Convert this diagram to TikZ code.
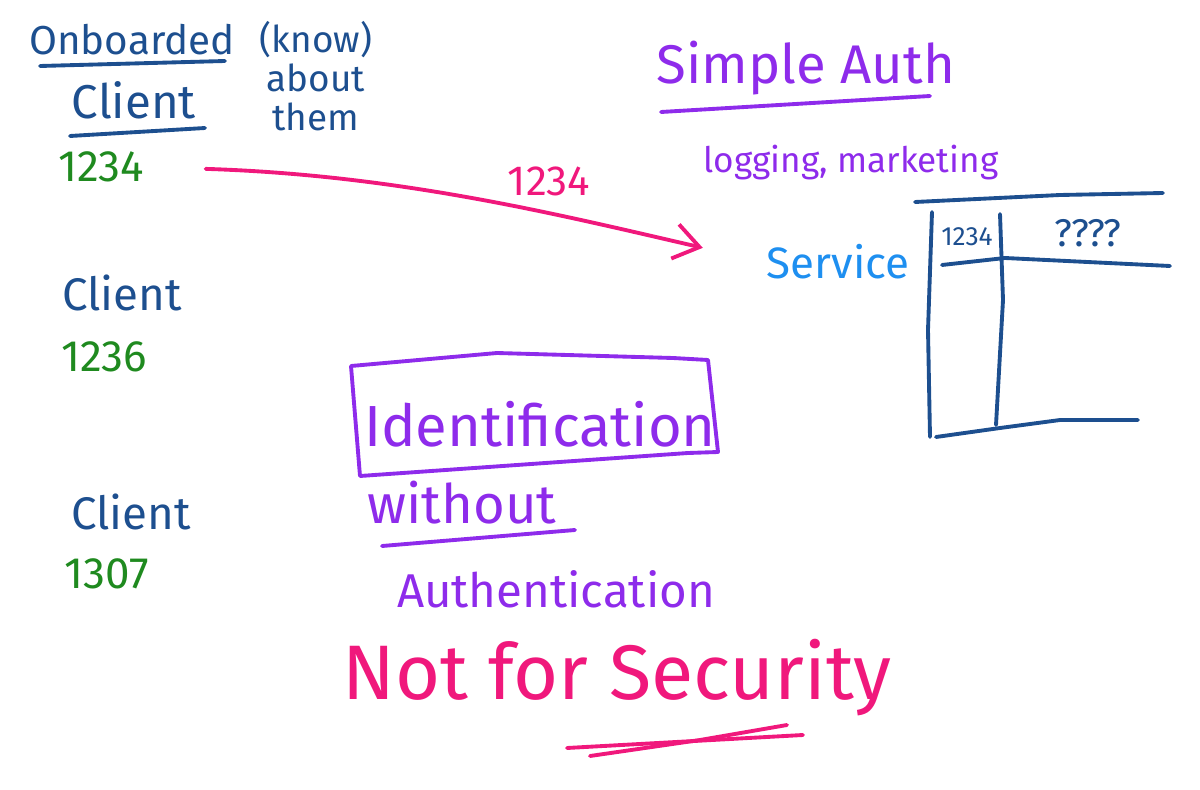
\documentclass[tikz,border=0pt]{standalone}
\usepackage{fontspec}
\setmainfont{Fira Sans}
\usepackage{tikz}
\usetikzlibrary{positioning,arrows.meta}
\usepackage{xcolor}
\definecolor{ink}{HTML}{1D4F8F}
\definecolor{leaf}{HTML}{1F8A1F}
\definecolor{hot}{HTML}{F0187C}
\definecolor{violet}{HTML}{8E2BEB}
\definecolor{sky}{HTML}{1E8FF0}
\newcommand{\fs}[1]{\fontsize{#1}{1.05\dimexpr#1\relax}\selectfont}

\begin{document}
\begin{tikzpicture}[x=0.02cm,y=-0.02cm,>={Straight Barb[length=5mm,width=7mm]},
  pen/.style={line width=2.2pt,line cap=round,line join=round},
  word/.style={inner sep=1pt}]
\useasboundingbox (0,0) rectangle (1200,790);
\node[word,text=ink,font=\fs{23pt}] (onb) at (132,40) {Onboarded};
\node[word,text=ink,font=\fs{21pt},align=center] (know) at (316,76) {(know)\\about\\them};
\node[word,text=ink,font=\fs{27pt}] (cl1) at (134,100) {Client};
\node[word,text=leaf,font=\fs{25pt}] (id1) at (101,167) {1234};
\draw[pen,ink] (40,66) -- (225,61);
\draw[pen,ink] (70,136) -- (205,128);
\node[word,text=ink,font=\fs{26pt}] (cl2) at (122,293) {Client};
\node[word,text=leaf,font=\fs{25pt}] (id2) at (104,357) {1236};
\node[word,text=ink,font=\fs{26pt}] (cl3) at (131,512) {Client};
\node[word,text=leaf,font=\fs{25pt}] (id3) at (107,574) {1307};
% service side
\node[word,text=violet,font=\fs{31pt}] (auth) at (806,68) {Simple Auth};
\draw[pen,violet] (661,112) -- (930,96);
\node[word,text=violet,font=\fs{20pt}] (use) at (851,163) {logging, marketing};
\node[word,text=sky,font=\fs{25pt}] (svc) at (838,262) {Service};
\node[word,text=hot,font=\fs{24pt}] (sent) at (549,181) {1234};
\draw[pen,hot,->,shorten <=34pt,shorten >=36pt] (id1.east) .. controls (400,175) and (560,215) .. (svc.west);
% table
\draw[pen,ink] (915,202) -- (1060,195) -- (1163,193);
\draw[pen,ink] (932,212) -- (928,330) -- (930,437);
\draw[pen,ink] (942,265) -- (1005,258) -- (1170,266);
\draw[pen,ink] (1000,214) -- (1003,300) -- (996,425);
\draw[pen,ink] (936,437) -- (1000,428) -- (1060,420) -- (1138,420);
\node[word,text=ink,font=\fs{15pt}] (key) at (967,237) {1234};
\node[word,text=ink,font=\fs{22pt}] (val) at (1088,233) {????};
% middle
\node[word,text=violet,font=\fs{33pt}] (ident) at (540,424) {Identification};
\draw[pen,violet] (351,366) -- (497,353) -- (673,358) -- (708,360) -- (718,452) -- (688,453) -- (360,476) -- cycle;
\node[word,text=violet,font=\fs{31pt}] (wo) at (462,503) {without};
\draw[pen,violet] (382,546) -- (575,530);
\node[word,text=violet,font=\fs{27pt}] (authn) at (556,589) {Authentication};
\node[word,text=hot,font=\fs{44pt}] (nfs) at (617,678) {Not for Security};
\draw[pen,hot] (567,748) -- (803,735);
\draw[pen,hot] (590,756) -- (700,740) -- (787,725);
\end{tikzpicture}
\end{document}
